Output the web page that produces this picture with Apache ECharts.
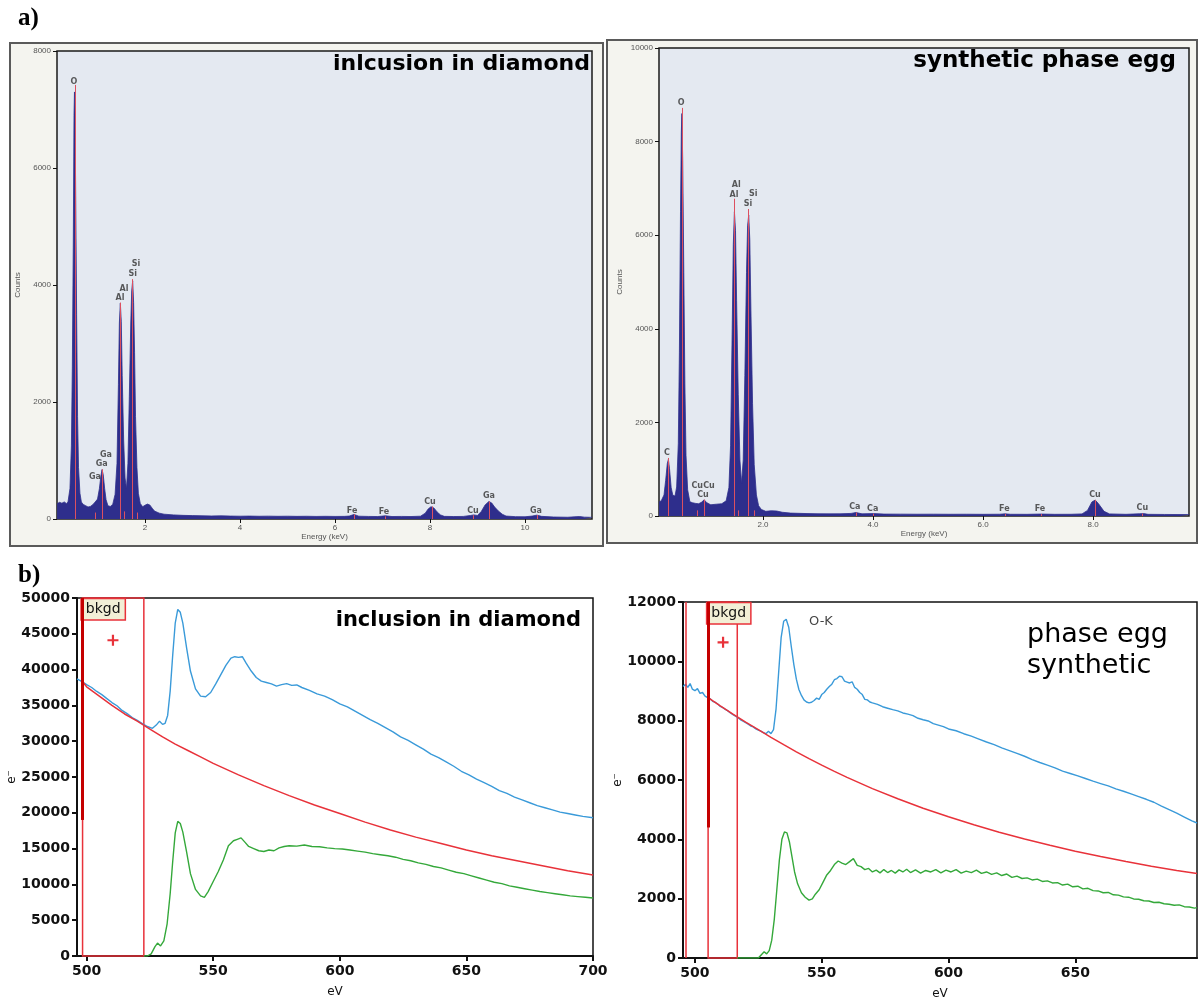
<!DOCTYPE html>
<html>
<head>
<meta charset="utf-8">
<script src="https://cdn.jsdelivr.net/npm/echarts@6/dist/echarts.min.js"></script>
<style>
html,body{margin:0;padding:0;background:#ffffff;}
#c{width:1202px;height:1001px;}
</style>
</head>
<body>
<div id="c"></div>
<script>
// ---------- a) EDS spectra: [energy keV, counts] ----------
const edsInclusion = [
  [0.15,262],[0.2,285],[0.25,270],[0.3,292],[0.35,262],[0.38,300],[0.42,520],[0.45,1250],[0.47,2600],
  [0.49,4700],[0.505,6900],[0.515,7300],[0.525,7050],[0.54,5600],[0.56,3500],[0.58,1750],[0.6,880],
  [0.63,440],[0.66,290],[0.7,250],[0.75,228],[0.8,205],[0.85,215],[0.9,245],[0.95,290],[1.0,340],
  [1.04,520],[1.07,730],[1.095,845],[1.12,760],[1.15,520],[1.18,330],[1.22,225],[1.27,215],[1.32,250],
  [1.37,420],[1.41,950],[1.44,2300],[1.46,3350],[1.48,3690],[1.5,3380],[1.52,2450],[1.55,1350],
  [1.58,700],[1.61,520],[1.64,950],[1.67,2100],[1.7,3350],[1.72,3900],[1.74,4070],[1.76,3700],
  [1.78,2850],[1.8,1750],[1.83,880],[1.86,440],[1.9,265],[1.95,210],[2.0,235],[2.05,255],[2.1,240],
  [2.15,185],[2.2,135],[2.3,100],[2.4,82],[2.6,70],[2.8,62],[3.0,58],[3.2,55],[3.4,52],[3.6,54],
  [3.8,50],[4.0,48],[4.2,50],[4.4,47],[4.6,49],[4.8,46],[5.0,48],[5.2,45],[5.4,47],[5.6,44],[5.8,46],
  [6.0,44],[6.2,45],[6.3,50],[6.4,78],[6.5,48],[6.7,44],[6.9,42],[7.06,55],[7.2,42],[7.4,44],[7.6,42],
  [7.8,48],[7.9,100],[7.96,170],[8.02,210],[8.08,190],[8.15,120],[8.22,70],[8.3,45],[8.5,42],[8.7,44],
  [8.85,60],[8.92,70],[9.0,60],[9.08,130],[9.16,240],[9.24,300],[9.3,272],[9.36,205],[9.44,135],
  [9.52,82],[9.6,50],[9.8,40],[10.0,38],[10.15,50],[10.25,66],[10.35,45],[10.6,34],[10.9,30],
  [11.05,38],[11.15,42],[11.25,32],[11.41,28]
];
// element marker lines: [element, energy keV, height]
const linesInclusion = [
  ['O',0.525,7420],['Ga',0.957,110],['Ga',1.098,850],['Al',1.486,3700],['Al',1.557,130],
  ['Si',1.74,4100],['Si',1.836,110],['Fe',6.4,80],['Fe',7.06,45],['Cu',8.04,215],['Cu',8.9,65],
  ['Ga',9.25,300],['Ga',10.26,68]
];
// peak labels: [text, energy keV, counts]
const labelsInclusion = [
  ['O',0.505,7470],['Ga',1.179,1094],['Ga',1.088,940],['Ga',0.947,723],['Al',1.558,3931],
  ['Al',1.474,3782],['Si',1.81,4353],['Si',1.74,4182],['Fe',6.358,142],['Fe',7.03,115],
  ['Cu',8.0,296],['Cu',8.905,142],['Ga',9.24,393],['Ga',10.23,142]
];

const edsSynthetic = [
  [0.11,300],[0.15,325],[0.2,450],[0.23,760],[0.26,1120],[0.28,1210],[0.3,1010],[0.33,610],[0.36,445],
  [0.4,425],[0.43,620],[0.46,1550],[0.48,3500],[0.5,6500],[0.515,8200],[0.525,8600],[0.54,7600],
  [0.56,5200],[0.58,2800],[0.6,1300],[0.63,560],[0.67,305],[0.72,282],[0.78,268],[0.83,262],[0.88,292],
  [0.93,345],[0.98,282],[1.05,240],[1.15,252],[1.25,262],[1.33,325],[1.38,610],[1.41,1500],[1.44,4000],
  [1.46,5800],[1.48,6500],[1.5,6100],[1.52,4600],[1.55,2600],[1.58,1200],[1.61,700],[1.64,1200],
  [1.67,3000],[1.7,5200],[1.72,6200],[1.74,6430],[1.76,5900],[1.78,4400],[1.81,2400],[1.84,1100],
  [1.88,450],[1.92,220],[1.97,140],[2.05,100],[2.15,112],[2.25,106],[2.35,80],[2.5,62],[2.8,52],
  [3.0,48],[3.2,46],[3.4,47],[3.6,55],[3.69,75],[3.8,46],[4.01,52],[4.2,41],[4.5,40],[4.8,38],[5.1,39],
  [5.4,37],[5.7,38],[6.0,36],[6.3,38],[6.4,46],[6.5,37],[6.8,36],[7.06,42],[7.3,36],[7.6,37],[7.8,45],
  [7.9,120],[7.98,300],[8.04,340],[8.1,262],[8.2,100],[8.3,45],[8.6,36],[8.85,48],[8.92,52],[9.0,36],
  [9.3,33],[9.6,31],[9.75,30]
];
const linesSynthetic = [
  ['C',0.277,1240],['O',0.525,8720],['Cu',0.811,120],['Cu',0.93,350],['Al',1.486,6780],['Al',1.557,120],
  ['Si',1.74,6560],['Si',1.836,120],['Ca',3.69,75],['Ca',4.01,50],['Fe',6.4,46],['Fe',7.06,42],
  ['Cu',8.04,345],['Cu',8.9,52]
];
const labelsSynthetic = [
  ['C',0.255,1346],['O',0.51,8825],['Al',1.515,7073],['Al',1.473,6859],['Si',1.824,6874],
  ['Si',1.727,6667],['Cu',0.805,641],['Cu',1.018,641],['Cu',0.909,449],['Ca',3.67,192],
  ['Ca',3.995,150],['Fe',6.387,150],['Fe',7.036,150],['Cu',8.036,449],['Cu',8.896,165]
];

// ---------- b) EELS O-K edge: [energy loss eV, e-] ----------
const eelsInclusionRaw = [
  [496.2,38700],[498,38350],[500,37900],[502,37500],[504,36950],[506,36500],[508,35950],[510,35400],
  [512,34950],[514,34300],[516,33850],[518,33300],[520,32900],[522,32450],[524,32050],[526,31800],
  [527.5,32250],[528.8,32800],[530,32350],[531,32500],[532,33600],[533,37000],[534,42000],[535,46500],
  [536,48400],[537,48000],[538,46500],[539.5,43000],[541,39800],[543,37300],[545,36300],[547,36200],
  [549,36800],[551,38000],[553,39300],[555,40600],[557,41600],[558.5,41800],[560,41700],[561.5,41800],
  [563,40900],[565,39800],[567,38900],[569,38400],[571,38200],[573,38000],[575,37700],[577,37900],
  [579,38050],[581,37800],[583,37850],[585,37500],[588,37100],[591,36600],[594,36300],[597,35800],
  [600,35200],[603,34800],[606,34200],[609,33600],[612,33000],[615,32500],[618,31900],[621,31300],
  [624,30600],[627,30100],[630,29500],[633,28900],[636,28200],[639,27700],[642,27100],[645,26500],
  [648,25800],[651,25300],[654,24700],[657,24200],[660,23700],[663,23100],[666,22700],[669,22200],
  [672,21800],[675,21400],[678,21000],[681,20700],[684,20400],[687,20100],[690,19900],[693,19700],
  [696,19500],[700,19300]
];
const eelsInclusionBkgd = [
  [498.4,38300],[500,37600],[505,36300],[510,35000],[515,33800],[520,32800],[525,31700],[530,30600],
  [535,29600],[540,28700],[545,27800],[550,26900],[560,25300],[570,23800],[580,22400],[590,21100],
  [600,19900],[610,18700],[620,17600],[630,16600],[640,15700],[650,14800],[660,14000],[670,13300],
  [680,12600],[690,11900],[700,11300]
];
const eelsInclusionEdge = [
  [522.6,0],[524,0],[525.5,300],[527,1300],[528,1800],[529.2,1400],[530.5,2100],[531.8,4500],[533,8700],
  [534,13200],[535,17200],[536,18800],[537,18500],[538,17300],[539.5,14500],[541,11500],[543,9300],
  [545,8400],[546.5,8200],[548,9000],[550,10400],[552,11800],[554,13400],[556,15400],[558,16100],
  [559.5,16300],[561,16500],[562.5,15900],[564,15300],[566,15000],[568,14700],[570,14600],[572,14800],
  [574,14700],[576,15100],[578,15300],[580,15400],[583,15350],[586,15500],[589,15300],[592,15250],
  [595,15100],[598,15000],[601,14950],[604,14800],[607,14650],[610,14500],[613,14300],[616,14150],
  [619,14000],[622,13800],[625,13500],[628,13300],[631,13000],[634,12800],[637,12500],[640,12300],
  [643,12000],[646,11700],[649,11500],[652,11200],[655,10900],[658,10600],[661,10300],[664,10100],
  [667,9800],[670,9600],[673,9400],[676,9200],[679,9000],[682,8850],[685,8700],[688,8550],[691,8400],
  [694,8300],[697,8200],[700,8100]
];

const eelsSyntheticRaw = [
  [495.3,9150],[496.3,9230],[497.2,9120],[498.1,9250],[499,9060],[500,9010],[501,9080],[502,8920],
  [503,8950],[504,8830],[505,8780],[506,8740],[507,8650],[508,8620],[509,8560],[510,8480],[511,8440],
  [512,8380],[513,8330],[514,8260],[515,8200],[516,8150],[517,8100],[518,8030],[519,7980],[520,7930],
  [521,7880],[522,7820],[523,7790],[524,7720],[525,7680],[526,7650],[527,7600],[528,7560],[529,7640],
  [530,7560],[531,7700],[532,8400],[533,9600],[534,10800],[535,11350],[536,11420],[537,11150],
  [538,10500],[539,9900],[540,9400],[541,9050],[542,8850],[543,8700],[544,8630],[545,8600],[546,8620],
  [547,8680],[548,8760],[549,8720],[550,8880],[551,8950],[552,9060],[553,9150],[554,9230],[555,9380],
  [556,9420],[557,9500],[558,9480],[559,9330],[560,9300],[561,9270],[562,9310],[563,9120],[564,9060],
  [565,8950],[566,8880],[567,8720],[568,8700],[569,8630],[570,8600],[572,8550],[574,8470],[576,8420],
  [578,8370],[580,8330],[582,8260],[584,8220],[586,8170],[588,8080],[590,8030],[592,7990],[594,7900],
  [596,7850],[598,7800],[600,7720],[603,7660],[606,7560],[609,7480],[612,7380],[615,7280],[618,7190],
  [621,7080],[624,6990],[627,6900],[630,6800],[633,6690],[636,6590],[639,6500],[642,6410],[645,6300],
  [648,6220],[651,6140],[654,6050],[657,5960],[660,5880],[663,5800],[666,5700],[669,5620],[672,5530],
  [675,5440],[678,5350],[681,5250],[684,5120],[687,5000],[690,4880],[693,4750],[696,4620],[698,4550]
];
const eelsSyntheticBkgd = [
  [505.2,8780],[510,8500],[515,8220],[520,7950],[525,7700],[530,7440],[535,7190],[540,6950],[545,6720],
  [550,6500],[555,6290],[560,6090],[570,5710],[580,5370],[590,5050],[600,4760],[610,4490],[620,4240],
  [630,4010],[640,3800],[650,3600],[660,3420],[670,3250],[680,3090],[690,2950],[698,2850]
];
const eelsSyntheticEdge = [
  [516.7,0],[525,0],[526.3,120],[527.3,210],[528.3,140],[529.3,250],[530.3,600],[531.3,1300],
  [532.3,2300],[533.3,3300],[534.3,4000],[535.3,4250],[536.3,4220],[537.3,3900],[538.3,3400],
  [539.3,2900],[540.5,2500],[542,2200],[543.5,2050],[545,1950],[546.3,1990],[547.5,2150],[549,2300],
  [550.5,2550],[552,2800],[553.5,2950],[555,3150],[556.5,3270],[558,3200],[559.5,3150],[561,3250],
  [562.5,3350],[564,3120],[565.5,3080],[567,2980],[568.5,3020],[570,2900],[571.5,2960],[573,2870],
  [574.5,2980],[576,2880],[577.5,2950],[579,2860],[580.5,2970],[582,2900],[583.5,2990],[585,2880],
  [587,2970],[589,2860],[591,2950],[593,2900],[595,2980],[597,2870],[599,2960],[601,2900],[603,2980],
  [605,2860],[607,2930],[609,2880],[611,2960],[613,2850],[615,2900],[617,2820],[619,2870],[621,2780],
  [623,2830],[625,2720],[627,2760],[629,2680],[631,2700],[633,2630],[635,2660],[637,2580],[639,2600],
  [641,2530],[643,2540],[645,2460],[647,2490],[649,2400],[651,2420],[653,2330],[655,2350],[657,2270],
  [659,2260],[661,2200],[663,2210],[665,2130],[667,2120],[669,2060],[671,2050],[673,1990],[675,1980],
  [677,1930],[679,1920],[681,1870],[683,1880],[685,1830],[687,1810],[689,1780],[691,1790],[693,1730],
  [695,1720],[697,1680],[698,1700]
];

// background window limits [start, end] eV and cursor (x, lower end of the dark trace)
const bkgdInclusion = [498.4, 522.6];
const bkgdSynthetic = [505.2, 516.7];
const cursorInclusion = [498.4, 19000];
const cursorSynthetic = [505.2, 4400];
const edgeStartSynthetic = 496.2;
const fitMarkInclusion = [510.4, 44100];
const fitMarkSynthetic = [511.1, 10640];
const edgeLabelSynthetic = ['O-K', 549.7, 11350];

// axis tick values
const ticksEdsInclusion = [2, 4, 6, 8, 10];
const ticksEdsSynthetic = [2, 4, 6, 8];
const ticksEelsInclusion = [500, 550, 600, 650, 700];
const ticksEelsSynthetic = [500, 550, 600, 650];

// ---------- styling ----------
const SPEC = '#2e2e8c';
const MARK = '#dc5060';
const BLUE = '#3a9ad9';
const RED = '#e8323a';
const GREEN = '#34a83a';
const plain = v => String(v);

function edsAxes(gi, min, max, ymax, ticks, fmt) {
  return {
    x: {
      type: 'value', gridIndex: gi, min: min, max: max,
      name: 'Energy (keV)', nameLocation: 'middle', nameGap: 14,
      nameTextStyle: { fontFamily: 'Liberation Sans', fontSize: 8, color: '#555' },
      axisLine: { show: false },
      axisTick: { show: true, customValues: ticks, length: 4, inside: false, lineStyle: { color: '#111', width: 1 } },
      axisLabel: { customValues: ticks, formatter: fmt, fontFamily: 'Liberation Sans', fontSize: 8, color: '#555', margin: 5 },
      splitLine: { show: false }
    },
    y: {
      type: 'value', gridIndex: gi, min: 0, max: ymax, interval: 2000,
      name: 'Counts', nameLocation: 'middle', nameGap: 35, nameRotate: 90,
      nameTextStyle: { fontFamily: 'Liberation Sans', fontSize: 8, color: '#555' },
      axisLine: { show: false },
      axisTick: { show: true, length: 4, lineStyle: { color: '#111', width: 1 } },
      axisLabel: { formatter: plain, fontFamily: 'Liberation Sans', fontSize: 8, color: '#555', margin: 6 },
      splitLine: { show: false }
    }
  };
}

function eelsAxes(gi, min, max, ymax, step, ticks) {
  return {
    x: {
      type: 'value', gridIndex: gi, min: min, max: max,
      name: 'eV', nameLocation: 'middle', nameGap: 30,
      nameTextStyle: { fontFamily: 'DejaVu Sans', fontSize: 12, color: '#111' },
      axisLine: { show: true, onZero: false, lineStyle: { color: '#111', width: 2 } },
      axisTick: { show: true, customValues: ticks, length: 5, lineStyle: { color: '#111', width: 2 } },
      axisLabel: { customValues: ticks, formatter: plain, fontFamily: 'DejaVu Sans', fontSize: 14, fontWeight: 'bold', color: '#111', margin: 8 },
      splitLine: { show: false }
    },
    y: {
      type: 'value', gridIndex: gi, min: 0, max: ymax, interval: step,
      name: 'e⁻', nameLocation: 'middle', nameGap: 58, nameRotate: 90,
      nameTextStyle: { fontFamily: 'DejaVu Sans', fontSize: 12, color: '#111' },
      axisLine: { show: true, lineStyle: { color: '#111', width: 2 } },
      axisTick: { show: true, length: 5, lineStyle: { color: '#111', width: 2 } },
      axisLabel: { formatter: plain, fontFamily: 'DejaVu Sans', fontSize: 14, fontWeight: 'bold', color: '#111', margin: 7 },
      splitLine: { show: false }
    }
  };
}

const ax0 = edsAxes(0, 0.147, 11.41, 8000, ticksEdsInclusion, plain);
const ax1 = edsAxes(1, 0.109, 9.745, 10000, ticksEdsSynthetic, v => v.toFixed(1));
const ax2 = eelsAxes(2, 496.2, 700, 50000, 5000, ticksEelsInclusion);
const ax3 = eelsAxes(3, 495.3, 698, 12000, 2000, ticksEelsSynthetic);

function spectrumSeries(i, data, lines) {
  return {
    type: 'line', xAxisIndex: i, yAxisIndex: i, data: data, symbol: 'none',
    lineStyle: { color: SPEC, width: 0.8 }, areaStyle: { color: SPEC, opacity: 1 },
    silent: true, z: 2,
    markLine: {
      silent: true, symbol: ['none', 'none'], label: { show: false },
      lineStyle: { color: MARK, width: 1, type: 'solid' },
      data: lines.map(l => [{ coord: [l[1], 0] }, { coord: [l[1], l[2]] }])
    }
  };
}
function textSeries(i, items, font) {
  return {
    type: 'scatter', xAxisIndex: i, yAxisIndex: i, silent: true, z: 6,
    symbolSize: 1, itemStyle: { color: 'rgba(0,0,0,0)' },
    data: items.map(l => [l[1], l[2], l[0]]),
    label: Object.assign({ show: true, position: 'inside', formatter: p => p.value[2] }, font)
  };
}
const plusPath = 'path://M4,0 L6,0 L6,4 L10,4 L10,6 L6,6 L6,10 L4,10 L4,6 L0,6 L0,4 L4,4 Z';
const bkgdLabel = {
  show: true, position: [0, 2], formatter: 'bkgd',
  fontFamily: 'DejaVu Sans', fontSize: 14, color: '#111',
  backgroundColor: '#f2efd6', borderColor: RED, borderWidth: 1.5, padding: [3, 4, 3, 4]
};
function bkgdSeries(i, data, win, ymax, cursor, mark, extraLines) {
  const ml = [
    [{ coord: [cursor[0], ymax], lineStyle: { color: '#c40000', width: 3, type: 'solid' } }, { coord: [cursor[0], cursor[1]] }]
  ];
  (extraLines || []).forEach(x => ml.push([{ coord: [x, 0], lineStyle: { color: RED, width: 1.5, type: 'solid' } }, { coord: [x, ymax] }]));
  return {
    type: 'line', xAxisIndex: i, yAxisIndex: i, data: data, symbol: 'none',
    lineStyle: { color: RED, width: 1.5 }, silent: true, z: 3,
    markArea: {
      silent: true,
      itemStyle: { color: 'rgba(0,0,0,0)', borderColor: RED, borderWidth: 1.5 },
      label: bkgdLabel,
      data: [[{ coord: [win[0], 0] }, { coord: [win[1], ymax] }]]
    },
    markLine: { silent: true, symbol: ['none', 'none'], label: { show: false }, lineStyle: { type: 'solid' }, data: ml },
    markPoint: {
      silent: true, symbol: plusPath, symbolSize: 11, itemStyle: { color: RED }, label: { show: false },
      data: [{ coord: mark }]
    }
  };
}
function traceSeries(i, data, color, z) {
  return {
    type: 'line', xAxisIndex: i, yAxisIndex: i, data: data, symbol: 'none',
    lineStyle: { color: color, width: 1.4 }, silent: true, z: z
  };
}
const peakFont = { fontFamily: 'DejaVu Sans', fontWeight: 'bold', fontSize: 8, color: '#333' };

const option = {
  animation: false,
  backgroundColor: '#ffffff',
  grid: [
    { left: 57, top: 51, width: 535, height: 468, show: true, backgroundColor: '#e4e9f1', borderColor: '#1a1a1a', borderWidth: 1.5, containLabel: false },
    { left: 659, top: 48, width: 530, height: 468, show: true, backgroundColor: '#e4e9f1', borderColor: '#1a1a1a', borderWidth: 1.5, containLabel: false },
    { left: 77, top: 598, width: 516, height: 358, show: true, backgroundColor: '#ffffff', borderColor: '#111', borderWidth: 1.5, containLabel: false },
    { left: 683, top: 602, width: 514, height: 356, show: true, backgroundColor: '#ffffff', borderColor: '#111', borderWidth: 1.5, containLabel: false }
  ],
  xAxis: [ax0.x, ax1.x, ax2.x, ax3.x],
  yAxis: [ax0.y, ax1.y, ax2.y, ax3.y],
  series: [
    spectrumSeries(0, edsInclusion, linesInclusion),
    textSeries(0, labelsInclusion, peakFont),
    spectrumSeries(1, edsSynthetic, linesSynthetic),
    textSeries(1, labelsSynthetic, peakFont),

    traceSeries(2, eelsInclusionRaw, BLUE, 2),
    traceSeries(2, eelsInclusionEdge, GREEN, 2),
    bkgdSeries(2, eelsInclusionBkgd, bkgdInclusion, 50000, cursorInclusion, fitMarkInclusion),

    traceSeries(3, eelsSyntheticRaw, BLUE, 2),
    traceSeries(3, eelsSyntheticEdge, GREEN, 2),
    bkgdSeries(3, eelsSyntheticBkgd, bkgdSynthetic, 12000, cursorSynthetic, fitMarkSynthetic, [edgeStartSynthetic]),
    textSeries(3, [edgeLabelSynthetic], { fontFamily: 'DejaVu Sans', fontSize: 13, color: '#111' })
  ],
  graphic: [
    // panel frames of part a)
    { type: 'rect', z: -10, shape: { x: 10, y: 43, width: 593, height: 503 }, style: { fill: '#f4f4ef', stroke: '#5a5a5a', lineWidth: 2 } },
    { type: 'rect', z: -10, shape: { x: 607, y: 40, width: 590, height: 503 }, style: { fill: '#f4f4ef', stroke: '#5a5a5a', lineWidth: 2 } },
    { type: 'text', left: 18, top: 6, style: { text: 'a)', font: 'bold 25px "Liberation Serif"', fill: '#000' } },
    { type: 'text', left: 18, top: 563, style: { text: 'b)', font: 'bold 25px "Liberation Serif"', fill: '#000' } },
    { type: 'text', z: 10, x: 590, y: 64, style: { text: 'inlcusion in diamond', font: 'bold 22px "DejaVu Sans"', fill: '#000', align: 'right', verticalAlign: 'middle' } },
    { type: 'text', z: 10, x: 1176, y: 61, style: { text: 'synthetic phase egg', font: 'bold 23px "DejaVu Sans"', fill: '#000', align: 'right', verticalAlign: 'middle' } },
    { type: 'text', z: 10, x: 581, y: 621, style: { text: 'inclusion in diamond', font: 'bold 21px "DejaVu Sans"', fill: '#000', align: 'right', verticalAlign: 'middle' } },
    { type: 'text', z: 10, x: 1027, y: 635, style: { text: 'phase egg', font: '27px "DejaVu Sans"', fill: '#000', align: 'left', verticalAlign: 'middle' } },
    { type: 'text', z: 10, x: 1027, y: 666, style: { text: 'synthetic', font: '27px "DejaVu Sans"', fill: '#000', align: 'left', verticalAlign: 'middle' } }
  ]
};

const chart = echarts.init(document.getElementById('c'));
chart.setOption(option);
</script>
</body>
</html>
